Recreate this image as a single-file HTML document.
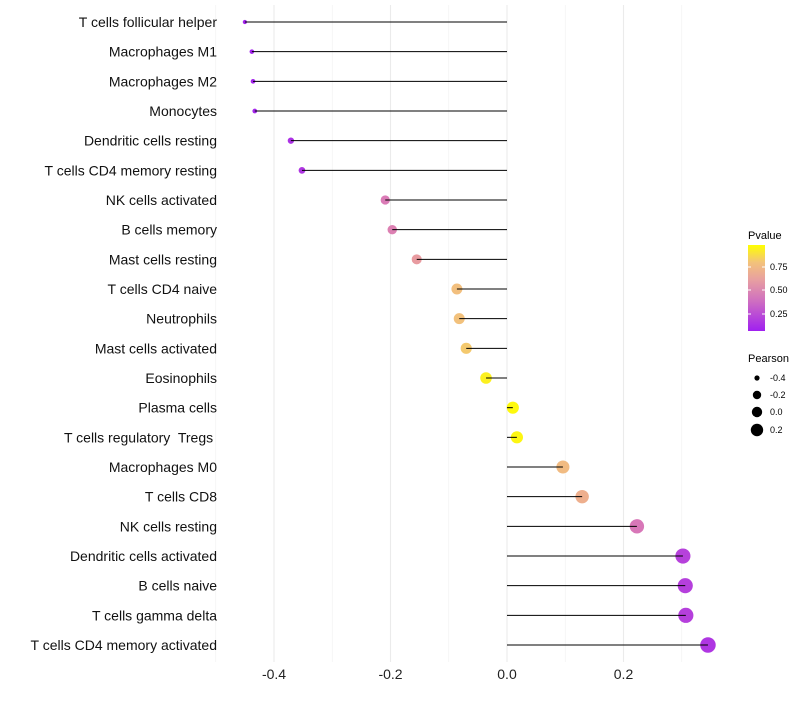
<!DOCTYPE html>
<html><head><meta charset="utf-8"><style>body{margin:0;background:#fff}svg text{font-family:"Liberation Sans",sans-serif;white-space:pre}</style></head>
<body>
<svg id="chart" width="800" height="700" xmlns="http://www.w3.org/2000/svg">
<defs><linearGradient id="pg" x1="0" y1="1" x2="0" y2="0">
<stop offset="0" stop-color="#a020f0"/><stop offset="0.35" stop-color="#cf6fc0"/><stop offset="0.6" stop-color="#e8a0a0"/><stop offset="0.8" stop-color="#f3c37a"/><stop offset="1" stop-color="#ffff00"/></linearGradient></defs>
<g id="grid"></g><g id="points"></g><g id="marks"></g><g id="labels"></g>
<g>
<text x="748" y="239" font-size="11">Pvalue</text>
<rect x="748" y="245" width="17" height="86" fill="url(#pg)"/>
<line x1="748" x2="751" y1="267" y2="267" stroke="#fff"/><line x1="762" x2="765" y1="267" y2="267" stroke="#fff"/>
<line x1="748" x2="751" y1="290" y2="290" stroke="#fff"/><line x1="762" x2="765" y1="290" y2="290" stroke="#fff"/>
<line x1="748" x2="751" y1="314" y2="314" stroke="#fff"/><line x1="762" x2="765" y1="314" y2="314" stroke="#fff"/>
<text x="770" y="270" font-size="9">0.75</text><text x="770" y="293" font-size="9">0.50</text><text x="770" y="317" font-size="9">0.25</text>
</g>
<g>
<text x="748" y="362" font-size="11">Pearson</text>
<circle cx="757" cy="378" r="2.6"/><text x="770" y="381" font-size="9">-0.4</text>
<circle cx="757" cy="395" r="4.2"/><text x="770" y="398" font-size="9">-0.2</text>
<circle cx="757" cy="412" r="5.2"/><text x="770" y="415" font-size="9">0.0</text>
<circle cx="757" cy="430" r="6.2"/><text x="770" y="433" font-size="9">0.2</text>
</g>
</svg>
<script>
const categories=["T cells follicular helper","Macrophages M1","Macrophages M2","Monocytes","Dendritic cells resting","T cells CD4 memory resting","NK cells activated","B cells memory","Mast cells resting","T cells CD4 naive","Neutrophils","Mast cells activated","Eosinophils","Plasma cells","T cells regulatory  Tregs ","Macrophages M0","T cells CD8","NK cells resting","Dendritic cells activated","B cells naive","T cells gamma delta","T cells CD4 memory activated"];
const pearson=[-0.450,-0.438,-0.436,-0.433,-0.371,-0.352,-0.209,-0.197,-0.155,-0.086,-0.082,-0.070,-0.036,0.010,0.017,0.096,0.129,0.223,0.302,0.306,0.307,0.345];
const pvalue=[0.02,0.02,0.02,0.03,0.08,0.10,0.42,0.45,0.60,0.78,0.79,0.82,0.95,0.98,0.97,0.76,0.70,0.40,0.15,0.14,0.14,0.10];
const xTicks=[-0.4,-0.2,0.0,0.2];
const xTickLabels=["-0.4","-0.2","0.0","0.2"];
const NS="http://www.w3.org/2000/svg";
const x=v=>507+v*582.5;
const y=i=>22+i*29.667;
const rad=v=>Math.sqrt(Math.max(1,36+70*v));
function col(p){const st=[[0,[160,32,240]],[0.35,[212,110,190]],[0.6,[232,155,160]],[0.8,[243,195,122]],[1,[255,255,0]]];
 for(let k=1;k<st.length;k++){if(p<=st[k][0]){const [a,ca]=st[k-1],[b,cb]=st[k];const t=(p-a)/(b-a);return "rgb("+ca.map((c,j)=>Math.round(c+(cb[j]-c)*t)).join(",")+")";}}return "rgb(255,255,0)";}
function mk(t,a,par){const e=document.createElementNS(NS,t);for(const k in a)e.setAttribute(k,a[k]);document.getElementById(par).appendChild(e);return e;}
for(let v=-0.5;v<=0.35;v+=0.1){const g=mk("line",{x1:x(v),x2:x(v),y1:5,y2:662,stroke:"#f0f0f0","stroke-width":0.6},"grid");

}
xTicks.forEach((v,i)=>{const g=mk("line",{x1:x(v),x2:x(v),y1:5,y2:662,stroke:"#ebebeb","stroke-width":1.1},"grid");


const t=mk("text",{x:x(v),y:679,"font-size":14,"text-anchor":"middle",fill:"#222"},"labels");t.textContent=xTickLabels[i];

});
categories.forEach((c,i)=>{
const t=mk("text",{x:217,y:y(i)+5,"font-size":14,"text-anchor":"end",fill:"#111"},"labels");t.textContent=c;


const p=mk("circle",{cx:x(pearson[i]),cy:y(i),r:rad(pearson[i]),fill:col(pvalue[i])},"points");


const l=mk("line",{x1:x(0),x2:x(pearson[i]),y1:y(i),y2:y(i),stroke:"#000","stroke-width":1},"marks");


});
</script>
</body></html>
